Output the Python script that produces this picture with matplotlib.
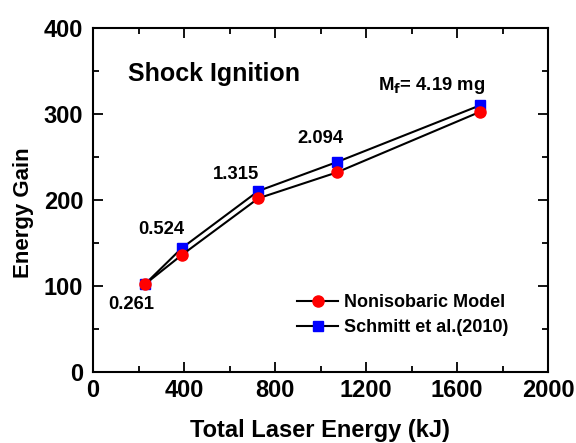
import matplotlib
matplotlib.use("Agg")
import matplotlib.pyplot as plt
from matplotlib.ticker import MultipleLocator

plt.rcParams['font.family'] = ['Liberation Sans', 'DejaVu Sans']
plt.rcParams['font.weight'] = 'bold'

energy = [228, 390, 727, 1071, 1701]
gain_nonisobaric = [102, 136, 202, 232, 302.5]
gain_schmitt = [102, 144, 210.5, 244, 310]
mass_labels = ["0.261", "0.524", "1.315", "2.094", r"M$_\mathbf{f}$= 4.19 mg"]
xticks = [0, 400, 800, 1200, 1600, 2000]
yticks = [0, 100, 200, 300, 400]

fig = plt.figure(figsize=(5.76, 4.43), dpi=100)
ax = fig.add_axes([93/576, 1-372/443, (548-93)/576, (372-28)/443])

ax.plot(energy, gain_nonisobaric, '-', color='black', lw=1.5, marker='o',
        mfc='red', mec='red', ms=8, label='Nonisobaric Model', zorder=3)
ax.plot(energy, gain_schmitt, '-', color='black', lw=1.5, marker='s',
        mfc='blue', mec='blue', ms=7, label='Schmitt et al.(2010)', zorder=2)

ax.set_xlim(0, 2000)
ax.set_ylim(0, 400)
ax.set_xticks(xticks)
ax.set_yticks(yticks)
ax.xaxis.set_minor_locator(MultipleLocator(200))
ax.yaxis.set_minor_locator(MultipleLocator(50))
ax.tick_params(which='both', direction='in', top=True, right=True, labelsize=17, width=1.3)
ax.tick_params(axis='y', which='both', pad=7)
ax.tick_params(axis='x', which='both', pad=5)
ax.tick_params(which='major', length=7)
ax.tick_params(which='minor', length=4.5)
for lab in ax.get_xticklabels() + ax.get_yticklabels():
    lab.set_fontweight('bold')
for s in ax.spines.values():
    s.set_linewidth(1.5)

ax.set_xlabel('Total Laser Energy (kJ)', fontsize=17, fontweight='bold')
ax.xaxis.set_label_coords((320-93)/455, (372-431)/344)
ax.xaxis.label.set_va('center')
ax.set_ylabel('Energy Gain', fontsize=16, fontweight='bold')
ax.yaxis.set_label_coords((23-93)/455, (372-213)/344)
ax.yaxis.label.set_va('center')

# annotations (positions in data coords)
ann_pos = [(167, 78), (299, 166), (629, 230), (998, 271), (1490, 333)]
for (tx, ty), t in zip(ann_pos, mass_labels):
    ax.text(tx, ty, t, ha='center', va='center', fontsize=13.3, fontweight='bold')

ax.text(154, 346.5, 'Shock Ignition', ha='left', va='center', fontsize=18, fontweight='bold')

leg = ax.legend(loc='center left', bbox_to_anchor=(0.448, 0.165), frameon=False,
                prop={'size': 13, 'weight': 'bold'}, handlelength=2.3,
                handletextpad=0.33, labelspacing=0.45, borderaxespad=0, borderpad=0)

fig.savefig('out.png', dpi=100)
